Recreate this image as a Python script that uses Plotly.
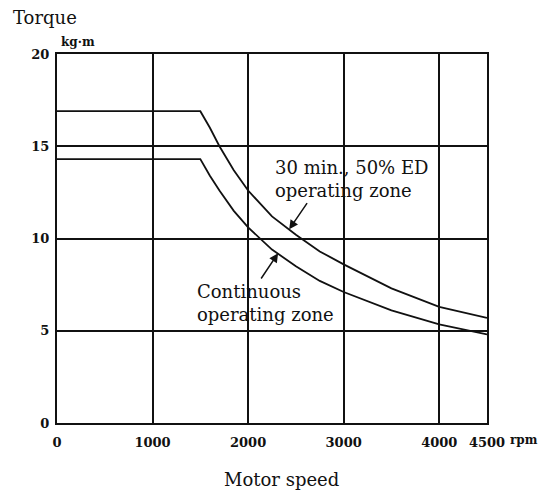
import plotly.graph_objects as go

# Data
speed_rpm = [0, 1500, 1600, 1700, 1850, 2000, 2250, 2500, 2750, 3000, 3500, 4000, 4500]
torque_30min_ed = [16.9, 16.9, 16.0, 15.0, 13.7, 12.6, 11.2, 10.2, 9.3, 8.6, 7.3, 6.3, 5.7]
torque_continuous = [14.3, 14.3, 13.4, 12.6, 11.5, 10.6, 9.4, 8.5, 7.7, 7.1, 6.1, 5.35, 4.8]

x_ticks = [0, 1000, 2000, 3000, 4000, 4500]
y_ticks = [0, 5, 10, 15, 20]

INK = "#111111"
SERIF = "DejaVu Serif"

fig = go.Figure()
fig.add_trace(go.Scatter(x=speed_rpm, y=torque_30min_ed, mode="lines",
                         line=dict(color=INK, width=1.8), showlegend=False,
                         name="30 min., 50% ED operating zone"))
fig.add_trace(go.Scatter(x=speed_rpm, y=torque_continuous, mode="lines",
                         line=dict(color=INK, width=1.8), showlegend=False,
                         name="Continuous operating zone"))

axis_common = dict(showline=True, linecolor=INK, linewidth=2, mirror=True,
                   showgrid=True, gridcolor=INK, gridwidth=1.5, zeroline=False,
                   ticks="", tickfont=dict(family=SERIF, size=13, color=INK, weight="bold"))

fig.update_xaxes(range=[0, 4500], tickvals=x_ticks, ticktext=[str(v) for v in x_ticks],
                 ticklabelstandoff=6, **axis_common)
fig.update_yaxes(range=[0, 20], tickvals=y_ticks, ticktext=[str(v) for v in y_ticks],
                 ticklabelstandoff=3, **axis_common)

annotations = [
    dict(text="30 min., 50% ED<br>operating zone", x=2262, y=13.2, xref="x", yref="y",
         xanchor="left", yanchor="middle", align="left", showarrow=False,
         font=dict(family=SERIF, size=18, color=INK)),
    dict(text="Continuous<br>operating zone", x=1445, y=6.5, xref="x", yref="y",
         xanchor="left", yanchor="middle", align="left", showarrow=False,
         font=dict(family=SERIF, size=18, color=INK)),
    # arrows
    dict(text="", x=2430, y=10.5, xref="x", yref="y", ax=2628, ay=12.0, axref="x", ayref="y",
         showarrow=True, arrowhead=2, arrowsize=1.2, arrowwidth=1.5, arrowcolor=INK),
    dict(text="", x=2314, y=9.2, xref="x", yref="y", ax=2126, ay=7.75, axref="x", ayref="y",
         showarrow=True, arrowhead=2, arrowsize=1.2, arrowwidth=1.5, arrowcolor=INK),
    dict(text="Torque", x=-0.028, y=1.10, xref="paper", yref="paper", showarrow=False,
         xanchor="center", yanchor="middle", font=dict(family=SERIF, size=18, color=INK)),
    dict(text="kg·m", x=0.049, y=1.033, xref="paper", yref="paper", showarrow=False,
         xanchor="center", yanchor="middle", font=dict(family=SERIF, size=12, color=INK, weight="bold")),
    dict(text="rpm", x=1.049, y=-0.046, xref="paper", yref="paper", showarrow=False,
         xanchor="left", yanchor="middle", font=dict(family=SERIF, size=12, color=INK, weight="bold")),
    dict(text="Motor speed", x=0.523, y=-0.154, xref="paper", yref="paper", showarrow=False,
         xanchor="center", yanchor="middle", font=dict(family=SERIF, size=18, color=INK)),
]

fig.update_layout(width=539, height=493, margin=dict(l=57, r=52, t=54, b=70),
                  paper_bgcolor="white", plot_bgcolor="white", annotations=annotations)

fig.write_html("out.html", config={"displayModeBar": False})

# remove the browser's default body margin so the figure sits at the page origin
with open("out.html", "r", encoding="utf-8") as f:
    html = f.read()
html = html.replace("<head>", "<head><style>html,body{margin:0;padding:0;overflow:hidden}</style>", 1)
with open("out.html", "w", encoding="utf-8") as f:
    f.write(html)
